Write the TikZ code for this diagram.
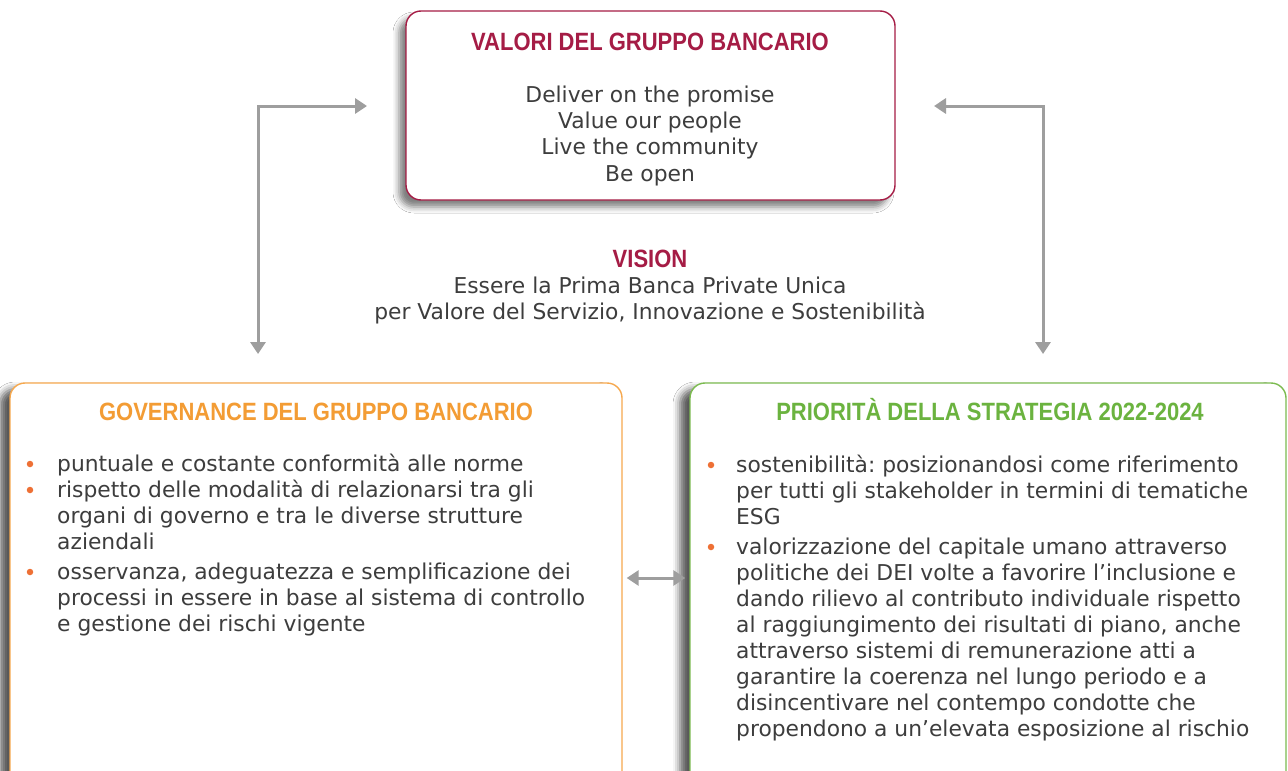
\documentclass[tikz,border=0pt]{standalone}
\usepackage{fontspec}
\setmainfont{DejaVu Sans}
\newfontfamily\titlefont[FakeStretch=0.88]{Liberation Sans}
\usetikzlibrary{arrows.meta,shadows.blur}
\definecolor{crim}{HTML}{A51C45}
\definecolor{orng}{HTML}{F39C34}
\definecolor{orngb}{HTML}{F6A84E}
\definecolor{grn}{HTML}{6BB33F}
\definecolor{grnb}{HTML}{7CBB50}
\definecolor{bul}{HTML}{EE7035}
\definecolor{arrg}{HTML}{9E9E9E}
\definecolor{txt}{HTML}{3D3D3D}
\tikzset{
  body/.style={font=\fontsize{21.8}{26.3}\selectfont\frenchspacing, text=txt, inner sep=0pt},
  ttl/.style={font=\titlefont\bfseries\fontsize{25}{28}\selectfont, inner sep=0pt},
  panel/.style={draw, line width=1.4pt, rounded corners=15pt, fill=white},
  arr/.style={draw=arrg, line width=3pt, arrows={Triangle[width=15pt,length=12pt]-Triangle[width=15pt,length=12pt]}},
  dot/.style={circle, fill=bul, inner sep=0pt, minimum size=6.5pt}
}
\begin{document}
\begin{tikzpicture}[x=1pt,y=-1pt]
\path[use as bounding box] (0,0) rectangle (1288,771);
\clip (0,0) rectangle (1288,771);
\fill[white] (0,0) rectangle (1288,771);

% panels
\node[panel, draw=crim, minimum width=489pt, minimum height=189pt,
  blur shadow={shadow xshift=-7pt, shadow yshift=-7pt, shadow blur radius=6pt, shadow opacity=50}]
  (valori) at (650.5,105.5) {};
\node[panel, draw=orngb, minimum width=612pt, minimum height=420pt,
  blur shadow={shadow xshift=-10pt, shadow yshift=-6pt, shadow blur radius=7pt, shadow opacity=65}]
  (gov) at (316,593) {};
\node[panel, draw=grnb, minimum width=596pt, minimum height=420pt,
  blur shadow={shadow xshift=-10pt, shadow yshift=-6pt, shadow blur radius=7pt, shadow opacity=65}]
  (prio) at (988,593) {};

% top box text
\node[ttl, text=crim, anchor=base] (vt) at (650,50) {VALORI DEL GRUPPO BANCARIO};
\foreach \y/\t [count=\i] in {102/{Deliver on the promise},128.3/{Value our people},154.6/{Live the community},181/{Be open}}
  \node[body, anchor=base] (v\i) at (650,\y) {\t};

% vision
\node[ttl, text=crim, anchor=base] (vis) at (650,267) {VISION};
\node[body, anchor=base] (vis1) at (650,293) {Essere la Prima Banca Private Unica};
\node[body, anchor=base] (vis2) at (650,319) {per Valore del Servizio, Innovazione e Sostenibilità};

% left panel
\node[ttl, text=orng, anchor=base] (gt) at (316,420) {GOVERNANCE DEL GRUPPO BANCARIO};
\foreach \y/\t [count=\i] in {471/{puntuale e costante conformità alle norme},
  497/{rispetto delle modalità di relazionarsi tra gli},
  523/{organi di governo e tra le diverse strutture},
  549/{aziendali},
  579/{osservanza, adeguatezza e semplificazione dei},
  605/{processi in essere in base al sistema di controllo},
  631/{e gestione dei rischi vigente}}
  \node[body, anchor=base west] (g\i) at (57,\y) {\t};
\node[dot] (gb1) at (30,464) {};
\node[dot] (gb2) at (30,490) {};
\node[dot] (gb3) at (30,572) {};

% right panel
\node[ttl, text=grn, anchor=base] (pt) at (990,420) {PRIORITÀ DELLA STRATEGIA 2022-2024};
\foreach \y/\t [count=\i] in {472/{sostenibilità: posizionandosi come riferimento},
  498/{per tutti gli stakeholder in termini di tematiche},
  524/{ESG},
  554/{valorizzazione del capitale umano attraverso},
  580/{politiche dei DEI volte a favorire l’inclusione e},
  606/{dando rilievo al contributo individuale rispetto},
  632/{al raggiungimento dei risultati di piano, anche},
  658/{attraverso sistemi di remunerazione atti a},
  684/{garantire la coerenza nel lungo periodo e a},
  710/{disincentivare nel contempo condotte che},
  736/{propendono a un’elevata esposizione al rischio}}
  \node[body, anchor=base west] (p\i) at (736,\y) {\t};
\node[dot] (pb1) at (711,465) {};
\node[dot] (pb2) at (711,547) {};

% connectors
\coordinate (la) at (367,106);
\coordinate (lb) at (258,354);
\coordinate (ra) at (934,106);
\coordinate (rb) at (1043,354);
\coordinate (mid) at (650,578);
\draw[arr] (lb) |- (la);
\draw[arr] (rb) |- (ra);
\draw[arr, shorten <=4pt, shorten >=4pt] (gov.east |- mid) -- (prio.west |- mid);
\end{tikzpicture}
\end{document}
